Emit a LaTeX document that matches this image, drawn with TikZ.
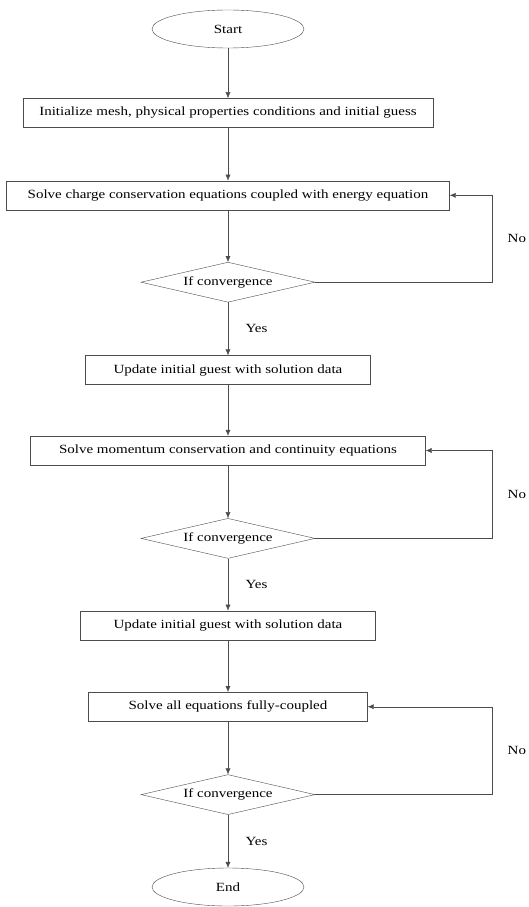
\documentclass[tikz,border=0pt]{standalone}
\usepackage{fontspec}
\setmainfont[FakeStretch=1.2]{Liberation Serif}
\usetikzlibrary{positioning, arrows.meta, shapes.geometric}

\begin{document}
\begin{tikzpicture}[
    x=1pt, y=1pt,
    node distance=53pt,
    font=\fontsize{12.5}{14}\selectfont,
    block/.style={
        rectangle,
        draw=black!70,
        align=center,
        minimum height=29pt,
        inner sep=2pt
    },
    terminal/.style={
        ellipse,
        draw=black!70,
        minimum width=152pt,
        minimum height=38pt
    },
    decision/.style={
        diamond,
        draw=black!70,
        aspect=4.3,
        inner sep=0pt,
        minimum width=174pt,
        minimum height=40pt
    },
    arrow/.style={
        -{Latex[length=6pt,width=5pt]},
        draw=black!70
    }
]
\useasboundingbox (0,0) rectangle (528,-907);

\node[terminal] (start) at (228,-29) {Start};

\node[block, minimum width=410pt, below=50pt of start] (init) {Initialize mesh, physical properties conditions and initial guess};

\node[block, minimum width=443pt, below=of init] (charge) {Solve charge conservation equations coupled with energy equation};

\node[decision, below=52pt of charge] (conv1) {If convergence};

\node[block, minimum width=285pt, below=of conv1] (update1) {Update initial guest with solution data};

\node[block, minimum width=395pt, below=51pt of update1] (momentum) {Solve momentum conservation and continuity equations};

\node[decision, below=of momentum] (conv2) {If convergence};

\node[block, minimum width=295pt, below=52pt of conv2] (update2) {Update initial guest with solution data};

\node[block, minimum width=279pt, below=52pt of update2] (coupled) {Solve all equations fully-coupled};

\node[decision, below=53pt of coupled] (conv3) {If convergence};

\node[terminal, below=53pt of conv3] (finish) {End};

% main line
\draw[arrow] (start) -- (init);
\draw[arrow] (init) -- (charge);
\draw[arrow] (charge) -- (conv1);
\draw[arrow] (conv1) -- node[right=14pt] {Yes} (update1);
\draw[arrow] (update1) -- (momentum);
\draw[arrow] (momentum) -- (conv2);
\draw[arrow] (conv2) -- node[right=14pt] {Yes} (update2);
\draw[arrow] (update2) -- (coupled);
\draw[arrow] (coupled) -- (conv3);
\draw[arrow] (conv3) -- node[right=14pt] {Yes} (finish);

% loops back
\draw[arrow] (conv1.east) -- ++(177,0) |- node[pos=0.25, right=12pt] {No} (charge.east);
\draw[arrow] (conv2.east) -- ++(177,0) |- node[pos=0.25, right=12pt] {No} (momentum.east);
\draw[arrow] (conv3.east) -- ++(177,0) |- node[pos=0.25, right=12pt] {No} (coupled.east);

\end{tikzpicture}
\end{document}
